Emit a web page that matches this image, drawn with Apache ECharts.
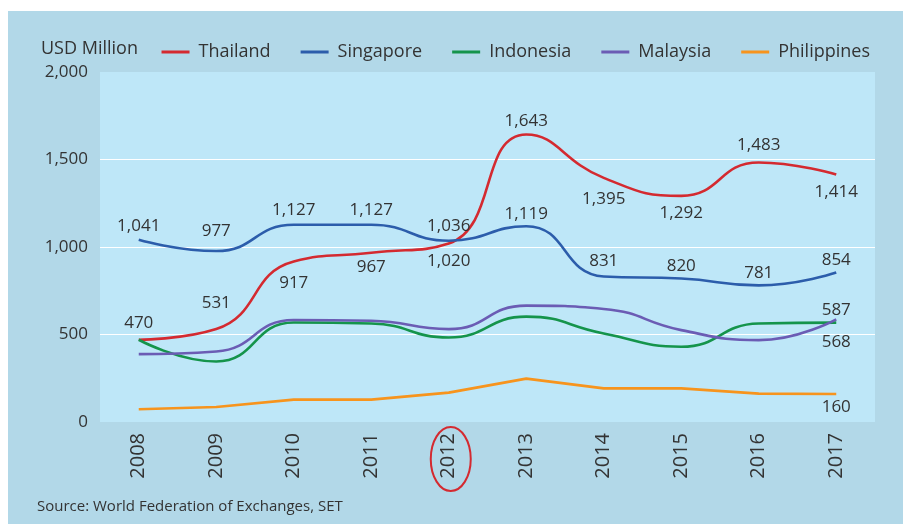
<!DOCTYPE html>
<html>
<head>
<meta charset="utf-8">
<script src="https://cdn.jsdelivr.net/npm/echarts@6/dist/echarts.min.js"></script>
<style>
html,body{margin:0;padding:0;background:#fff;}
#c{width:907px;height:524px;}
</style>
</head>
<body>
<div id="c"></div>
<script>
// ---- data ----
const years = ['2008','2009','2010','2011','2012','2013','2014','2015','2016','2017'];
const thailand = [470, 531, 917, 967, 1020, 1643, 1395, 1292, 1483, 1414];
const singapore = [1041, 977, 1127, 1127, 1036, 1119, 831, 820, 781, 854];
const indonesia = [470, 346, 569, 563, 483, 602, 506, 430, 563, 568];
const malaysia = [388, 403, 583, 579, 531, 665, 646, 525, 468, 587];
const philippines = [73, 86, 128, 128, 168, 248, 192, 192, 162, 160];
const yTicks = [0, 500, 1000, 1500, 2000];
const sourceText = 'Source: World Federation of Exchanges, SET';

// ---- build ----
const FONT = '"Open Sans", "Noto Sans", sans-serif';
const TXT = '#333333';
const fmt = v => v.toLocaleString('en-US');

function labelled(values, placements) {
  return values.map((v, i) => {
    const p = placements[i];
    if (!p) return { value: v, label: { show: false } };
    return {
      value: v,
      label: {
        show: true,
        position: p[0],
        distance: p[1],
        offset: [p[2] || 0, 0]
      }
    };
  });
}

const thPlace = [
  ['top', 8], ['top', 17], ['bottom', 13], ['bottom', 6], ['bottom', 9, 18],
  ['top', 5], ['bottom', 13], ['bottom', 9], ['top', 9], ['bottom', 9]
];
const sgPlace = [
  ['top', 5, -4], ['top', 11], ['top', 6, -2], ['top', 6, -1], ['top', 6, -20],
  ['top', 4, 3], ['top', 7], ['top', 4], ['top', 4], ['top', 4]
];
const idPlace = years.map((y, i) => i === years.length - 1 ? ['bottom', 11] : null);
const myPlace = years.map((y, i) => i === years.length - 1 ? ['top', 1] : null);
const phPlace = years.map((y, i) => i === years.length - 1 ? ['bottom', 5] : null);

const labelStyle = { show: false, color: TXT, fontSize: 17, fontFamily: FONT, formatter: p => fmt(p.value) };

function line(name, color, values, placements, smooth) {
  return {
    name: name,
    type: 'line',
    smooth: smooth,
    symbol: 'circle',
    symbolSize: 0,
    showSymbol: true,
    lineStyle: { color: color, width: 2.6 },
    itemStyle: { color: color },
    label: labelStyle,
    labelLayout: { hideOverlap: false },
    data: labelled(values, placements),
    z: 3
  };
}

const chart = echarts.init(document.getElementById('c'), null, { renderer: 'canvas' });

const option = {
  backgroundColor: '#ffffff',
  animation: false,
  title: {
    text: 'USD Million',
    left: 36,
    top: 35,
    textStyle: { color: TXT, fontSize: 18, fontWeight: 'normal', fontFamily: FONT }
  },
  legend: {
    right: 32,
    top: 38,
    icon: 'rect',
    itemWidth: 28,
    itemHeight: 3,
    itemGap: 30,
    textStyle: { color: TXT, fontSize: 18, fontFamily: FONT, padding: [0, 0, 0, 4] },
    data: ['Thailand', 'Singapore', 'Indonesia', 'Malaysia', 'Philippines']
  },
  grid: {
    left: 100, right: 32, top: 72, bottom: 102,
    show: true, backgroundColor: '#bee7f8', borderWidth: 0
  },
  xAxis: {
    type: 'category',
    data: years,
    boundaryGap: true,
    axisLine: { show: false },
    axisTick: { show: false },
    axisLabel: { rotate: 90, margin: 11, color: TXT, fontSize: 20, fontFamily: FONT }
  },
  yAxis: {
    type: 'value',
    min: yTicks[0],
    max: yTicks[yTicks.length - 1],
    interval: yTicks[1] - yTicks[0],
    axisLine: { show: false },
    axisTick: { show: false },
    axisLabel: { margin: 12, color: TXT, fontSize: 17, fontFamily: FONT, formatter: v => fmt(v) },
    splitLine: { show: true, lineStyle: { color: ['rgba(0,0,0,0)', '#ffffff', '#ffffff', '#ffffff', 'rgba(0,0,0,0)'], width: 1.2 } }
  },
  graphic: [
    {
      type: 'rect', z: -10, silent: true,
      shape: { x: 8, y: 11, width: 895, height: 513 },
      style: { fill: '#b2d8e8' }
    },
    {
      type: 'text', left: 37, top: 499, silent: true,
      style: { text: sourceText, fill: TXT, fontSize: 15, fontFamily: FONT }
    }
  ],
  series: [
    line('Thailand', '#d42a30', thailand, thPlace, 0.5),
    line('Singapore', '#2c5dab', singapore, sgPlace, 0.5),
    line('Indonesia', '#15944b', indonesia, idPlace, 0.5),
    line('Malaysia', '#6b5cb4', malaysia, myPlace, 0.5),
    line('Philippines', '#f7941d', philippines, phPlace, false)
  ]
};

chart.setOption(option);

// highlight ring around the 2012 tick label
const px = chart.convertToPixel({ xAxisIndex: 0 }, '2012');
const yBottom = chart.convertToPixel({ yAxisIndex: 0 }, 0);
chart.setOption({
  graphic: [
    option.graphic[0],
    option.graphic[1],
    {
      type: 'ellipse', silent: true, z: 10,
      shape: { cx: px + 2, cy: yBottom + 37, rx: 20, ry: 32 },
      style: { fill: 'none', stroke: '#d42a30', lineWidth: 2 }
    }
  ]
});
</script>
</body>
</html>
